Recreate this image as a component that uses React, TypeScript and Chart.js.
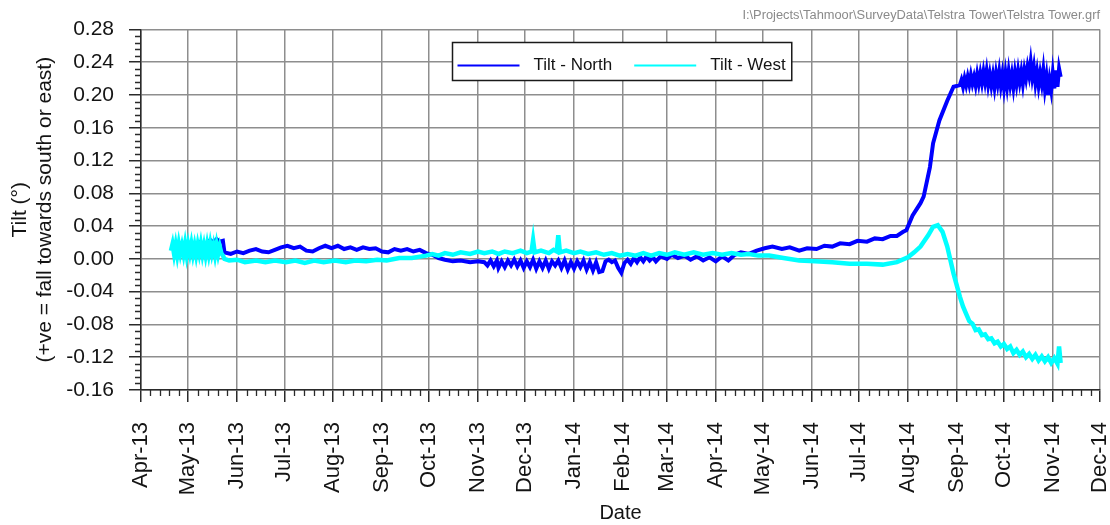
import React, { useEffect, useRef } from 'react';
import { Chart, registerables } from 'chart.js';

Chart.register(...registerables);

// ---------- text ----------
const FILE_PATH = 'I:\\Projects\\Tahmoor\\SurveyData\\Telstra Tower\\Telstra Tower.grf';
const Y_TITLE = ['Tilt (°)', '(+ve = fall towards south or east)'];
const X_TITLE = 'Date';
const SERIES_LABELS = ['Tilt - North', 'Tilt - West'];

// ---------- axes ----------
const monthTickDates = [
  '2013-04-01', '2013-05-01', '2013-06-01', '2013-07-01', '2013-08-01', '2013-09-01',
  '2013-10-01', '2013-11-01', '2013-12-01', '2014-01-01', '2014-02-01', '2014-03-01',
  '2014-04-01', '2014-05-01', '2014-06-01', '2014-07-01', '2014-08-01', '2014-09-01',
  '2014-10-01', '2014-11-01', '2014-12-01',
];
const monthTickLabels = [
  'Apr-13', 'May-13', 'Jun-13', 'Jul-13', 'Aug-13', 'Sep-13', 'Oct-13', 'Nov-13', 'Dec-13',
  'Jan-14', 'Feb-14', 'Mar-14', 'Apr-14', 'May-14', 'Jun-14', 'Jul-14', 'Aug-14', 'Sep-14',
  'Oct-14', 'Nov-14', 'Dec-14',
];
const yTickValues = [-0.16, -0.12, -0.08, -0.04, 0, 0.04, 0.08, 0.12, 0.16, 0.2, 0.24, 0.28];

// ---------- series: Tilt - North (date, value) ----------
const northDates = [
  '2013-04-20', '2013-04-24', '2013-04-28', '2013-05-02', '2013-05-06', '2013-05-08',
  '2013-05-10', '2013-05-13', '2013-05-15', '2013-05-17', '2013-05-19', '2013-05-21',
  '2013-05-23', '2013-05-24', '2013-05-28', '2013-06-01', '2013-06-05', '2013-06-09',
  '2013-06-13', '2013-06-17', '2013-06-21', '2013-06-25', '2013-06-29', '2013-07-03',
  '2013-07-07', '2013-07-11', '2013-07-15', '2013-07-19', '2013-07-23', '2013-07-27',
  '2013-07-31', '2013-08-04', '2013-08-08', '2013-08-12', '2013-08-16', '2013-08-20',
  '2013-08-24', '2013-08-28', '2013-09-01', '2013-09-05', '2013-09-09', '2013-09-13',
  '2013-09-17', '2013-09-21', '2013-09-25', '2013-09-29', '2013-10-03', '2013-10-07',
  '2013-10-11', '2013-10-16', '2013-10-21', '2013-10-27', '2013-11-01', '2013-11-05',
  '2013-11-07', '2013-11-09', '2013-11-11', '2013-11-13', '2013-11-14', '2013-11-16',
  '2013-11-18', '2013-11-20', '2013-11-22', '2013-11-24', '2013-11-26', '2013-11-28',
  '2013-11-30', '2013-12-02', '2013-12-04', '2013-12-06', '2013-12-08', '2013-12-10',
  '2013-12-12', '2013-12-14', '2013-12-16', '2013-12-18', '2013-12-20', '2013-12-22',
  '2013-12-24', '2013-12-26', '2013-12-28', '2013-12-30', '2014-01-01', '2014-01-03',
  '2014-01-05', '2014-01-07', '2014-01-09', '2014-01-11', '2014-01-13', '2014-01-15',
  '2014-01-17', '2014-01-19', '2014-01-21', '2014-01-23', '2014-01-25', '2014-01-27',
  '2014-01-29', '2014-01-31', '2014-02-02', '2014-02-04', '2014-02-06', '2014-02-08',
  '2014-02-10', '2014-02-12', '2014-02-14', '2014-02-16', '2014-02-18', '2014-02-20',
  '2014-02-22', '2014-02-25', '2014-03-01', '2014-03-04', '2014-03-08', '2014-03-12',
  '2014-03-16', '2014-03-20', '2014-03-24', '2014-03-28', '2014-04-01', '2014-04-05',
  '2014-04-09', '2014-04-13', '2014-04-17', '2014-04-22', '2014-04-27', '2014-05-02',
  '2014-05-07', '2014-05-13', '2014-05-18', '2014-05-24', '2014-05-29', '2014-06-04',
  '2014-06-09', '2014-06-14', '2014-06-19', '2014-06-25', '2014-06-30', '2014-07-06',
  '2014-07-11', '2014-07-16', '2014-07-21', '2014-07-25', '2014-07-29', '2014-07-31',
  '2014-08-04', '2014-08-09', '2014-08-11', '2014-08-15', '2014-08-17', '2014-08-21',
  '2014-08-26', '2014-08-30', '2014-09-03', '2014-09-04', '2014-09-05', '2014-09-06',
  '2014-09-07', '2014-09-08', '2014-09-09', '2014-09-10', '2014-09-11', '2014-09-12',
  '2014-09-13', '2014-09-14', '2014-09-15', '2014-09-16', '2014-09-17', '2014-09-18',
  '2014-09-19', '2014-09-20', '2014-09-21', '2014-09-22', '2014-09-23', '2014-09-24',
  '2014-09-25', '2014-09-26', '2014-09-27', '2014-09-28', '2014-09-29', '2014-09-30',
  '2014-10-01', '2014-10-02', '2014-10-03', '2014-10-04', '2014-10-05', '2014-10-06',
  '2014-10-07', '2014-10-08', '2014-10-09', '2014-10-10', '2014-10-11', '2014-10-12',
  '2014-10-13', '2014-10-14', '2014-10-15', '2014-10-16', '2014-10-17', '2014-10-18',
  '2014-10-19', '2014-10-20', '2014-10-21', '2014-10-22', '2014-10-23', '2014-10-24',
  '2014-10-25', '2014-10-26', '2014-10-27', '2014-10-28', '2014-10-29', '2014-10-30',
  '2014-10-31', '2014-11-01', '2014-11-02', '2014-11-03', '2014-11-04', '2014-11-05',
  '2014-11-06',
];
const northValues = [
  0.013, 0.016, 0.014, 0.017, 0.016, 0.020,
  0.017, 0.019, 0.023, 0.020, 0.024, 0.021,
  0.022, 0.008, 0.006, 0.009, 0.007, 0.010,
  0.012, 0.009, 0.008, 0.011, 0.014, 0.016,
  0.013, 0.015, 0.010, 0.009, 0.013, 0.016,
  0.013, 0.016, 0.012, 0.014, 0.011, 0.014,
  0.012, 0.013, 0.009, 0.008, 0.012, 0.010,
  0.012, 0.009, 0.011, 0.007, 0.005, 0.001,
  -0.001, -0.003, -0.002, -0.004, -0.003, -0.004,
  -0.008, -0.002, -0.009, -0.002, -0.011, -0.003,
  -0.010, -0.002, -0.008, -0.001, -0.009, -0.002,
  -0.011, -0.003, -0.010, -0.001, -0.012, -0.003,
  -0.011, -0.002, -0.012, -0.003, -0.008, -0.002,
  -0.011, -0.002, -0.013, -0.004, -0.012, -0.003,
  -0.010, -0.002, -0.013, -0.004, -0.014, -0.004,
  -0.016, -0.015, -0.003, -0.001, -0.004, -0.002,
  -0.011, -0.017, -0.005, -0.001, -0.006, 0.001,
  -0.004, 0.002, -0.003, 0.003, -0.002, 0.002,
  -0.003, 0.003, 0.000, 0.005, 0.001, 0.004,
  -0.001, 0.003, -0.002, 0.002, -0.003, 0.003,
  -0.002, 0.005, 0.008, 0.006, 0.010, 0.013,
  0.015, 0.012, 0.014, 0.010, 0.013, 0.012,
  0.016, 0.015, 0.019, 0.018, 0.022, 0.021,
  0.025, 0.024, 0.028, 0.028, 0.033, 0.035,
  0.053, 0.068, 0.076, 0.112, 0.141, 0.169,
  0.193, 0.210, 0.212, 0.218, 0.210, 0.220,
  0.212, 0.222, 0.213, 0.224, 0.214, 0.222,
  0.212, 0.225, 0.214, 0.226, 0.215, 0.228,
  0.216, 0.229, 0.213, 0.225, 0.212, 0.224,
  0.210, 0.226, 0.214, 0.228, 0.212, 0.225,
  0.209, 0.226, 0.211, 0.228, 0.213, 0.225,
  0.210, 0.227, 0.214, 0.229, 0.216, 0.228,
  0.214, 0.230, 0.220, 0.234, 0.224, 0.240,
  0.222, 0.234, 0.215, 0.228, 0.212, 0.226,
  0.214, 0.230, 0.208, 0.222, 0.200, 0.218,
  0.206, 0.226, 0.208, 0.230, 0.210, 0.232,
  0.222,
];

// ---------- series: Tilt - West (date, value) ----------
const westDates = [
  '2013-04-20', '2013-04-21', '2013-04-22', '2013-04-23', '2013-04-24', '2013-04-25',
  '2013-04-26', '2013-04-27', '2013-04-28', '2013-04-29', '2013-04-30', '2013-05-01',
  '2013-05-02', '2013-05-03', '2013-05-04', '2013-05-05', '2013-05-06', '2013-05-07',
  '2013-05-08', '2013-05-09', '2013-05-10', '2013-05-11', '2013-05-12', '2013-05-13',
  '2013-05-14', '2013-05-15', '2013-05-16', '2013-05-17', '2013-05-18', '2013-05-19',
  '2013-05-20', '2013-05-21', '2013-05-22', '2013-05-23', '2013-05-24', '2013-05-27',
  '2013-06-01', '2013-06-06', '2013-06-13', '2013-06-19', '2013-06-25', '2013-07-02',
  '2013-07-08', '2013-07-14', '2013-07-20', '2013-07-26', '2013-08-02', '2013-08-09',
  '2013-08-15', '2013-08-22', '2013-08-29', '2013-09-04', '2013-09-12', '2013-09-20',
  '2013-09-29', '2013-10-03', '2013-10-07', '2013-10-11', '2013-10-16', '2013-10-21',
  '2013-10-27', '2013-11-01', '2013-11-05', '2013-11-10', '2013-11-14', '2013-11-18',
  '2013-11-23', '2013-11-28', '2013-12-02', '2013-12-05', '2013-12-06', '2013-12-07',
  '2013-12-11', '2013-12-16', '2013-12-19', '2013-12-21', '2013-12-22', '2013-12-23',
  '2013-12-27', '2014-01-01', '2014-01-05', '2014-01-10', '2014-01-15', '2014-01-20',
  '2014-01-25', '2014-01-30', '2014-02-04', '2014-02-09', '2014-02-14', '2014-02-19',
  '2014-02-24', '2014-03-01', '2014-03-06', '2014-03-12', '2014-03-18', '2014-03-24',
  '2014-03-30', '2014-04-05', '2014-04-11', '2014-04-17', '2014-04-22', '2014-04-28',
  '2014-05-05', '2014-05-14', '2014-05-24', '2014-06-03', '2014-06-14', '2014-06-25',
  '2014-07-06', '2014-07-16', '2014-07-25', '2014-08-01', '2014-08-05', '2014-08-09',
  '2014-08-14', '2014-08-17', '2014-08-20', '2014-08-23', '2014-08-26', '2014-08-30',
  '2014-09-03', '2014-09-05', '2014-09-07', '2014-09-09', '2014-09-11', '2014-09-13',
  '2014-09-15', '2014-09-17', '2014-09-19', '2014-09-21', '2014-09-23', '2014-09-25',
  '2014-09-27', '2014-09-29', '2014-10-01', '2014-10-03', '2014-10-05', '2014-10-07',
  '2014-10-09', '2014-10-11', '2014-10-13', '2014-10-15', '2014-10-17', '2014-10-19',
  '2014-10-21', '2014-10-23', '2014-10-25', '2014-10-27', '2014-10-29', '2014-10-31',
  '2014-11-02', '2014-11-04', '2014-11-05', '2014-11-06',
];
const westValues = [
  0.010, 0.018, 0.006, 0.017, 0.005, 0.018,
  0.007, 0.016, 0.006, 0.018, 0.005, 0.017,
  0.007, 0.018, 0.006, 0.016, 0.005, 0.017,
  0.007, 0.018, 0.006, 0.016, 0.005, 0.017,
  0.006, 0.018, 0.007, 0.016, 0.005, 0.017,
  0.006, 0.015, 0.007, 0.004, 0.000, -0.002,
  -0.001, -0.004, -0.002, -0.004, -0.002, -0.004,
  -0.002, -0.005, -0.002, -0.004, -0.002, -0.004,
  -0.002, -0.003, -0.001, -0.002, 0.001, 0.001,
  0.004, 0.006, 0.004, 0.007, 0.005, 0.008,
  0.006, 0.009, 0.007, 0.009, 0.006, 0.009,
  0.007, 0.010, 0.007, 0.009, 0.023, 0.008,
  0.010, 0.007, 0.011, 0.009, 0.029, 0.008,
  0.010, 0.007, 0.009, 0.006, 0.008, 0.005,
  0.007, 0.004, 0.006, 0.004, 0.007, 0.004,
  0.007, 0.005, 0.008, 0.005, 0.008, 0.005,
  0.007, 0.005, 0.007, 0.005, 0.006, 0.004,
  0.004, 0.001, -0.002, -0.003, -0.004, -0.006,
  -0.006, -0.007, -0.004, 0.002, 0.008, 0.015,
  0.029, 0.039, 0.041, 0.033, 0.015, -0.018,
  -0.046, -0.058, -0.067, -0.076, -0.079, -0.087,
  -0.086, -0.093, -0.092, -0.098, -0.097, -0.103,
  -0.101, -0.107, -0.104, -0.110, -0.107, -0.115,
  -0.111, -0.117, -0.113, -0.120, -0.116, -0.122,
  -0.117, -0.124, -0.119, -0.125, -0.120, -0.127,
  -0.121, -0.128, -0.107, -0.127,
];

const toTs = (s: string) => Date.parse(s + 'T00:00:00Z');
const monthTs = monthTickDates.map(toTs);

const FONT_FAMILY = '"Liberation Sans", Arial, Helvetica, sans-serif';
const TEXT_COLOR = '#141414';
const GRID_COLOR = '#8e8e8e';
const AXIS_COLOR = '#2a2a2a';

const minorTicksPlugin = {
  id: 'minorTicks',
  afterDraw(chart: any) {
    const { ctx, chartArea } = chart;
    const xs = chart.scales.x;
    const ys = chart.scales.y;
    ctx.save();
    ctx.strokeStyle = AXIS_COLOR;
    ctx.lineWidth = 1.3;
    ctx.beginPath();
    for (let i = 0; i < monthTs.length - 1; i++) {
      const a = monthTs[i];
      const b = monthTs[i + 1];
      for (let k = 1; k < 5; k++) {
        const px = Math.round(xs.getPixelForValue(a + ((b - a) * k) / 5)) + 0.5;
        ctx.moveTo(px, chartArea.bottom);
        ctx.lineTo(px, chartArea.bottom + 6);
      }
    }
    for (let i = 0; i < yTickValues.length - 1; i++) {
      const a = yTickValues[i];
      const b = yTickValues[i + 1];
      for (let k = 1; k < 5; k++) {
        const py = Math.round(ys.getPixelForValue(a + ((b - a) * k) / 5)) + 0.5;
        ctx.moveTo(chartArea.left - 6, py);
        ctx.lineTo(chartArea.left, py);
      }
    }
    ctx.stroke();
    ctx.restore();
  },
};

const boxLegendPlugin = {
  id: 'boxLegend',
  afterDatasetsDraw(chart: any) {
    const { ctx, chartArea } = chart;
    ctx.save();
    ctx.font = `17px ${FONT_FAMILY}`;
    const items = chart.data.datasets.map((ds: any) => ({
      label: ds.label,
      color: ds.borderColor,
      w: ctx.measureText(ds.label).width,
    }));
    const padL = 5;
    const lineLen = 62;
    const gapLT = 14;
    const gapItem = 22;
    const padR = 6;
    let width = padL + padR;
    items.forEach((it: any, i: number) => {
      width += lineLen + gapLT + it.w + (i > 0 ? gapItem : 0);
    });
    const h = 38;
    const cx = (chartArea.left + chartArea.right) / 2 + 1;
    const left = Math.round(cx - width / 2) + 0.5;
    const top = Math.round(chartArea.top + 13) + 0.5;
    ctx.fillStyle = '#ffffff';
    ctx.fillRect(left, top, width, h);
    ctx.strokeStyle = '#1a1a1a';
    ctx.lineWidth = 1.5;
    ctx.strokeRect(left, top, width, h);
    let xx = left + padL;
    const yy = top + 23;
    items.forEach((it: any, i: number) => {
      if (i > 0) xx += gapItem;
      ctx.strokeStyle = it.color;
      ctx.lineWidth = 2;
      ctx.beginPath();
      ctx.moveTo(xx, yy);
      ctx.lineTo(xx + lineLen, yy);
      ctx.stroke();
      xx += lineLen + gapLT;
      ctx.fillStyle = TEXT_COLOR;
      ctx.textBaseline = 'middle';
      ctx.textAlign = 'left';
      ctx.fillText(it.label, xx, yy);
      xx += it.w;
    });
    ctx.restore();
  },
};

export default function App() {
  const canvasRef = useRef<HTMLCanvasElement | null>(null);

  useEffect(() => {
    if (!canvasRef.current) return;
    Chart.defaults.font.family = FONT_FAMILY;
    const north = northDates.map((d, i) => ({ x: toTs(d), y: northValues[i] }));
    const west = westDates.map((d, i) => ({ x: toTs(d), y: westValues[i] }));

    const chart = new Chart(canvasRef.current, {
      type: 'line',
      data: {
        datasets: [
          {
            label: SERIES_LABELS[0],
            data: north,
            borderColor: '#0000ff',
            backgroundColor: '#0000ff',
            borderWidth: 4,
            pointRadius: 0,
            tension: 0,
            order: 2,
          },
          {
            label: SERIES_LABELS[1],
            data: west,
            borderColor: '#00ffff',
            backgroundColor: '#00ffff',
            borderWidth: 4.5,
            pointRadius: 0,
            tension: 0,
            order: 1,
          },
        ],
      },
      options: {
        animation: false,
        responsive: true,
        maintainAspectRatio: false,
        devicePixelRatio: 1,
        parsing: false,
        normalized: true,
        layout: { padding: { left: 0, right: 10, top: 0, bottom: 0 } },
        plugins: {
          legend: { display: false },
          tooltip: { enabled: false },
          title: {
            display: true,
            text: FILE_PATH,
            align: 'end',
            color: '#8a8a8a',
            font: { size: 12.85, weight: 'normal' },
            padding: { top: 8, bottom: 6 },
          },
        },
        scales: {
          x: {
            type: 'linear',
            min: monthTs[0],
            max: monthTs[monthTs.length - 1],
            afterBuildTicks: (s: any) => {
              s.ticks = monthTs.map((v) => ({ value: v }));
            },
            afterFit: (s: any) => {
              s.height = 135;
              s.paddingLeft = 0;
              s.paddingRight = 0;
            },
            ticks: {
              autoSkip: false,
              maxRotation: 90,
              minRotation: 90,
              padding: 20,
              color: TEXT_COLOR,
              font: { size: 22 },
              callback: (_v: any, i: number) => monthTickLabels[i],
            },
            grid: {
              color: GRID_COLOR,
              lineWidth: 1.5,
              tickLength: 12,
              tickColor: AXIS_COLOR,
              tickWidth: 1.5,
            },
            border: { color: AXIS_COLOR, width: 1.5 },
            title: {
              display: true,
              text: X_TITLE,
              color: TEXT_COLOR,
              font: { size: 20 },
              padding: { top: 0, bottom: 0 },
            },
          },
          y: {
            type: 'linear',
            min: yTickValues[0],
            max: yTickValues[yTickValues.length - 1],
            afterBuildTicks: (s: any) => {
              s.ticks = yTickValues.map((v) => ({ value: v }));
            },
            afterFit: (s: any) => {
              s.width = 141;
            },
            ticks: {
              padding: 15,
              color: TEXT_COLOR,
              font: { size: 21 },
              callback: (v: any) => Number(v).toFixed(2),
            },
            grid: {
              color: GRID_COLOR,
              lineWidth: 1.5,
              tickLength: 12,
              tickColor: AXIS_COLOR,
              tickWidth: 1.5,
            },
            border: { color: AXIS_COLOR, width: 1.5 },
            title: {
              display: true,
              text: Y_TITLE,
              color: TEXT_COLOR,
              font: { size: 21, lineHeight: 25 / 21 },
              padding: { top: 7.5, bottom: 0 },
            },
          },
        },
      },
      plugins: [minorTicksPlugin, boxLegendPlugin],
    } as any);

    return () => chart.destroy();
  }, []);

  return (
    <div style={{ position: 'absolute', left: 0, top: 0, width: 1110, height: 525 }}>
      <canvas ref={canvasRef} />
    </div>
  );
}
